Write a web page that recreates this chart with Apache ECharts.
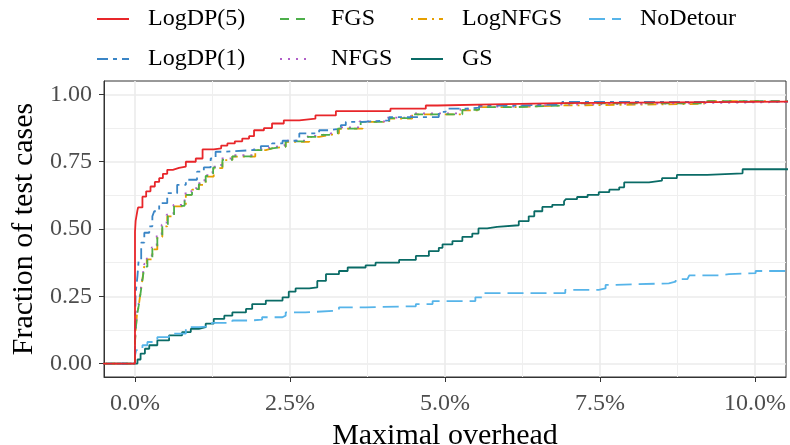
<!DOCTYPE html>
<html>
<head>
<meta charset="utf-8">
<script src="https://cdn.jsdelivr.net/npm/echarts@6/dist/echarts.min.js"></script>
<style>
html,body{margin:0;padding:0;background:#fff;}
#chart{width:790px;height:445px;}
</style>
</head>
<body>
<div id="chart"></div>
<script>
// ---- Data (x = maximal overhead in %, y = fraction of test cases) ----
const xTicks = [0, 2.5, 5, 7.5, 10];
const yTicks = [0, 0.25, 0.5, 0.75, 1];

const logdp5X = [0, 0.01, 0.04, 0.05, 0.12, 0.18, 0.25, 0.32, 0.39, 0.45, 0.52, 0.61, 0.71, 0.82, 0.98, 1.09, 1.27, 1.39, 1.49, 1.61, 1.73, 1.84, 1.92, 2.08, 2.21, 2.40, 2.65, 2.91, 3.24, 4.12, 4.69, 4.88, 5.76, 6.87];
const logdp5Y = [0.49, 0.53, 0.57, 0.58, 0.62, 0.64, 0.658, 0.675, 0.689, 0.705, 0.72, 0.727, 0.732, 0.75, 0.762, 0.796, 0.80, 0.81, 0.818, 0.826, 0.836, 0.845, 0.867, 0.875, 0.892, 0.904, 0.91, 0.922, 0.938, 0.947, 0.959, 0.963, 0.968, 0.975];

const logdp1X = [0, 0.01, 0.04, 0.06, 0.10, 0.15, 0.23, 0.28, 0.31, 0.39, 0.52, 0.68, 0.82, 1.00, 1.11, 1.22, 1.30, 1.44, 1.89, 2.03, 2.21, 2.38, 2.65, 2.97, 3.13, 3.32, 3.40, 3.67, 4.10, 4.90, 5.01, 5.34, 5.55, 6.14, 6.89, 9.18];
const logdp1Y = [0.12, 0.26, 0.326, 0.387, 0.449, 0.486, 0.51, 0.547, 0.566, 0.596, 0.633, 0.664, 0.683, 0.713, 0.729, 0.762, 0.787, 0.793, 0.80, 0.808, 0.818, 0.828, 0.855, 0.867, 0.873, 0.886, 0.898, 0.904, 0.916, 0.935, 0.947, 0.951, 0.959, 0.963, 0.972, 0.975];

const lognfgsX = [0, 0.01, 0.03, 0.06, 0.09, 0.12, 0.15, 0.19, 0.28, 0.36, 0.44, 0.52, 0.63, 0.82, 0.92, 1.03, 1.14, 1.27, 1.41, 1.57, 1.94, 2.11, 2.21, 2.43, 2.81, 2.97, 3.13, 3.29, 3.67, 4.10, 4.47, 5.28, 5.55, 6.14, 6.89, 9.18];
const lognfgsY = [0.08, 0.12, 0.178, 0.215, 0.264, 0.314, 0.363, 0.387, 0.424, 0.47, 0.51, 0.547, 0.584, 0.627, 0.646, 0.664, 0.695, 0.726, 0.756, 0.769, 0.793, 0.80, 0.806, 0.824, 0.842, 0.849, 0.855, 0.873, 0.898, 0.91, 0.926, 0.941, 0.953, 0.959, 0.965, 0.975];

const fgsX = [0, 0.01, 0.03, 0.06, 0.09, 0.12, 0.15, 0.20, 0.28, 0.36, 0.44, 0.53, 0.63, 0.80, 0.92, 1.03, 1.14, 1.26, 1.41, 1.57, 1.92, 2.11, 2.21, 2.43, 2.78, 2.97, 3.13, 3.27, 3.64, 4.10, 4.45, 5.28, 5.55, 6.14, 6.89, 9.18];
const fgsY = [0.08, 0.12, 0.175, 0.215, 0.262, 0.31, 0.36, 0.39, 0.426, 0.47, 0.512, 0.549, 0.586, 0.627, 0.648, 0.666, 0.697, 0.728, 0.757, 0.77, 0.793, 0.80, 0.806, 0.826, 0.842, 0.85, 0.856, 0.873, 0.898, 0.912, 0.926, 0.943, 0.953, 0.959, 0.967, 0.975];

const nfgsX = [0, 0.01, 0.03, 0.06, 0.09, 0.12, 0.15, 0.19, 0.27, 0.35, 0.43, 0.51, 0.62, 0.80, 0.91, 1.02, 1.12, 1.25, 1.39, 1.55, 1.92, 2.09, 2.21, 2.41, 2.79, 2.95, 3.11, 3.27, 3.62, 4.05, 4.45, 5.25, 5.50, 6.10, 6.85, 9.18];
const nfgsY = [0.08, 0.125, 0.185, 0.225, 0.272, 0.322, 0.37, 0.395, 0.432, 0.476, 0.516, 0.553, 0.59, 0.632, 0.652, 0.67, 0.70, 0.732, 0.762, 0.774, 0.797, 0.804, 0.81, 0.828, 0.846, 0.853, 0.86, 0.878, 0.90, 0.914, 0.93, 0.945, 0.955, 0.962, 0.968, 0.975];

const gsX = [0.04, 0.09, 0.16, 0.23, 0.36, 0.55, 0.76, 0.90, 1.03, 1.14, 1.27, 1.44, 1.57, 1.79, 1.89, 2.11, 2.38, 2.48, 2.59, 2.81, 2.94, 3.08, 3.29, 3.43, 3.72, 3.88, 4.26, 4.53, 4.74, 4.90, 4.96, 5.12, 5.28, 5.44, 5.54, 5.68, 5.84, 6.19, 6.35, 6.44, 6.57, 6.73, 6.92, 6.95, 7.13, 7.30, 7.48, 7.65, 7.81, 7.89, 8.29, 8.50, 8.74, 9.23, 9.80];
const gsY = [0.015, 0.037, 0.055, 0.068, 0.086, 0.105, 0.117, 0.129, 0.135, 0.148, 0.166, 0.178, 0.19, 0.203, 0.221, 0.234, 0.246, 0.267, 0.279, 0.283, 0.307, 0.332, 0.344, 0.357, 0.365, 0.375, 0.385, 0.40, 0.418, 0.43, 0.443, 0.455, 0.471, 0.483, 0.502, 0.508, 0.514, 0.529, 0.547, 0.566, 0.582, 0.59, 0.603, 0.611, 0.619, 0.627, 0.637, 0.646, 0.655, 0.673, 0.68, 0.689, 0.701, 0.707, 0.722];

const nodetourX = [0, 0.02, 0.12, 0.20, 0.36, 0.55, 0.82, 1.03, 1.24, 1.57, 1.87, 2.05, 2.38, 2.43, 2.75, 3.29, 3.72, 4.53, 4.80, 5.49, 5.63, 6.94, 7.48, 7.59, 7.70, 8.61, 8.72, 8.91, 8.94, 9.42, 9.58, 10.01];
const nodetourY = [0.03, 0.05, 0.068, 0.08, 0.098, 0.111, 0.135, 0.139, 0.151, 0.16, 0.163, 0.172, 0.178, 0.19, 0.197, 0.209, 0.213, 0.221, 0.232, 0.246, 0.262, 0.274, 0.279, 0.292, 0.298, 0.304, 0.314, 0.32, 0.328, 0.332, 0.336, 0.344];

const X_MIN = -0.5, X_MAX = 10.5, Y_MIN = -0.05, Y_MAX = 1.05;

// ECDF-style padding: flat at 0 from the left edge, flat at last value to the right edge
function ecdf(xs, ys) {
  const pts = [[X_MIN - 1, 0]];
  for (let i = 0; i < xs.length; i++) pts.push([xs[i], ys[i]]);
  pts.push([X_MAX + 1, ys[ys.length - 1]]);
  return pts;
}

const seriesDefs = [
  { name: 'GS',        xs: gsX,       ys: gsY,       color: '#0A6B66', type: 'solid' },
  { name: 'NoDetour',  xs: nodetourX, ys: nodetourY, color: '#56B4E9', type: [16, 7] },
  { name: 'LogNFGS',   xs: lognfgsX,  ys: lognfgsY,  color: '#E69F00', type: [2, 5, 9, 5] },
  { name: 'NFGS',      xs: nfgsX,     ys: nfgsY,     color: '#B05FC8', type: [2, 6] },
  { name: 'FGS',       xs: fgsX,      ys: fgsY,      color: '#4DAF4A', type: [9, 7] },
  { name: 'LogDP(1)',  xs: logdp1X,   ys: logdp1Y,   color: '#3A85C6', type: [11, 5, 4, 5] },
  { name: 'LogDP(5)',  xs: logdp5X,   ys: logdp5Y,   color: '#E8262A', type: 'solid' }
];

const FONT = '"Liberation Serif", "DejaVu Serif", serif';

const series = seriesDefs.map(d => ({
  name: d.name,
  type: 'line',
  step: 'end',
  data: ecdf(d.xs, d.ys),
  showSymbol: false,
  symbol: 'none',
  color: d.color,
  lineStyle: { color: d.color, width: 1.8, type: d.type },
  clip: true,
  animation: false
}));

function legendCol(left, names) {
  return {
    orient: 'vertical',
    left: left,
    top: 2,
    data: names,
    itemWidth: 32,
    itemHeight: 24,
    itemGap: 16,
    selectedMode: false,
    itemStyle: { opacity: 0 },
    textStyle: { fontFamily: FONT, fontSize: 24, color: '#000', padding: [0, 0, 0, 14], lineHeight: 24 }
  };
}

const option = {
  backgroundColor: '#fff',
  animation: false,
  legend: [
    legendCol(91, ['LogDP(5)', 'LogDP(1)']),
    legendCol(274, ['FGS', 'NFGS']),
    legendCol(405, ['LogNFGS', 'GS']),
    legendCol(583, ['NoDetour'])
  ],
  grid: {
    left: 104, right: 4, top: 81, bottom: 68,
    outerBoundsMode: 'none',
    containLabel: false,
    show: true, borderColor: '#333', borderWidth: 1, backgroundColor: 'transparent'
  },
  xAxis: {
    type: 'value',
    min: X_MIN, max: X_MAX,
    minInterval: 2.5, maxInterval: 2.5, splitNumber: 4,
    name: 'Maximal overhead',
    nameLocation: 'middle',
    nameGap: 40,
    nameTextStyle: { fontFamily: FONT, fontSize: 30, color: '#000' },
    axisLine: { show: true, onZero: false, lineStyle: { color: '#333', width: 1 } },
    axisTick: { show: true, length: 5, customValues: xTicks, lineStyle: { color: '#333', width: 1 } },
    axisLabel: {
      customValues: xTicks,
      formatter: v => v.toFixed(1) + '%',
      fontFamily: FONT, fontSize: 24, color: '#4D4D4D', margin: 15
    },
    splitLine: { show: true, lineStyle: { color: '#EBEBEB', width: 1.6 } },
    minorTick: { show: false, splitNumber: 2 },
    minorSplitLine: { show: true, lineStyle: { color: '#EFEFEF', width: 1 } }
  },
  yAxis: {
    type: 'value',
    min: Y_MIN, max: Y_MAX,
    minInterval: 0.25, maxInterval: 0.25, splitNumber: 4,
    name: 'Fraction of test cases',
    nameLocation: 'middle',
    nameGap: 56,
    nameTextStyle: { fontFamily: FONT, fontSize: 30, color: '#000' },
    axisLine: { show: true, onZero: false, lineStyle: { color: '#333', width: 1 } },
    axisTick: { show: true, length: 5, customValues: yTicks, lineStyle: { color: '#333', width: 1 } },
    axisLabel: {
      customValues: yTicks,
      formatter: v => v.toFixed(2),
      fontFamily: FONT, fontSize: 24, color: '#4D4D4D', margin: 12
    },
    splitLine: { show: true, lineStyle: { color: '#EBEBEB', width: 1.6 } },
    minorTick: { show: false, splitNumber: 2 },
    minorSplitLine: { show: true, lineStyle: { color: '#EFEFEF', width: 1 } }
  },
  series: series
};

const chart = echarts.init(document.getElementById('chart'), null, { renderer: 'canvas' });
chart.setOption(option);
</script>
</body>
</html>
